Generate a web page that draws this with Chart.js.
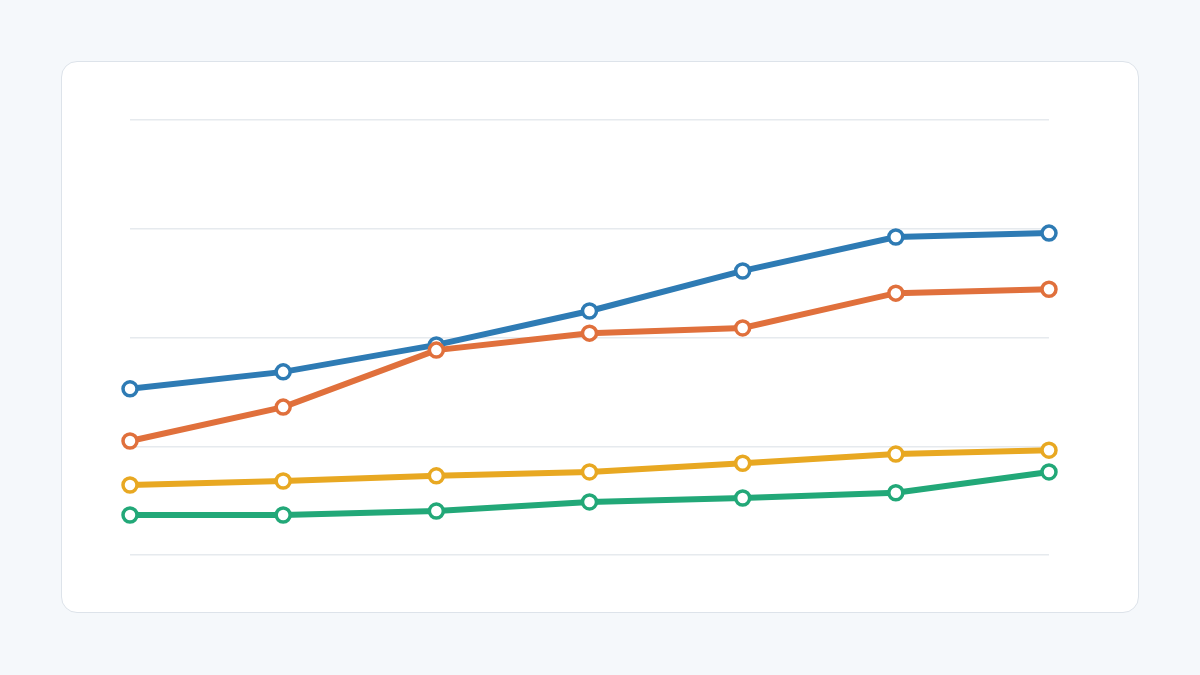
<!DOCTYPE html>
<html><head><meta charset="utf-8">
<script src="https://cdn.jsdelivr.net/npm/chart.js@4"></script>
<style>
html,body{margin:0;padding:0;background:#f5f8fb;width:1200px;height:675px;overflow:hidden}
#card{position:absolute;left:61px;top:61px;width:1076px;height:550px;background:#fff;border:1px solid #dde3ea;border-radius:16px}
#wrap{position:absolute;left:0;top:0;width:1200px;height:675px}
</style></head><body>
<div id="card"></div>
<div id="wrap"><canvas id="c" width="1200" height="675"></canvas></div>
<script>
const categories = ["1","2","3","4","5","6","7"];
const blue = [38.2, 42.1, 48.3, 56.1, 65.3, 73.1, 74.0];
const orange = [26.2, 34.0, 47.1, 51.0, 52.2, 60.2, 61.1];
const yellow = [16.1, 17.0, 18.2, 19.1, 21.1, 23.2, 24.1];
const green = [9.2, 9.2, 10.1, 12.2, 13.1, 14.3, 19.1];
function ds(data, color){return {data, borderColor:color, backgroundColor:'#fff', pointBackgroundColor:'#fff', pointBorderColor:color, borderWidth:6, pointRadius:7, pointBorderWidth:3.5, tension:0, clip:false};}
new Chart(document.getElementById('c'),{
 type:'line',
 data:{labels:categories,datasets:[ds(green,'#22a878'),ds(yellow,'#e8a822'),ds(orange,'#e0703c'),ds(blue,'#2e7bb4')]},
 options:{responsive:false,animation:false,
  layout:{padding:{left:130,right:151,top:120,bottom:112}},
  plugins:{legend:{display:false},tooltip:{enabled:false}},
  scales:{
   x:{offset:false,grid:{display:false},border:{display:false},ticks:{display:false}},
   y:{min:0,max:100,ticks:{display:false,stepSize:25},grid:{color:'#e6eaee',lineWidth:1.5,drawTicks:false},border:{display:false}}
  }}
});
</script></body></html>
